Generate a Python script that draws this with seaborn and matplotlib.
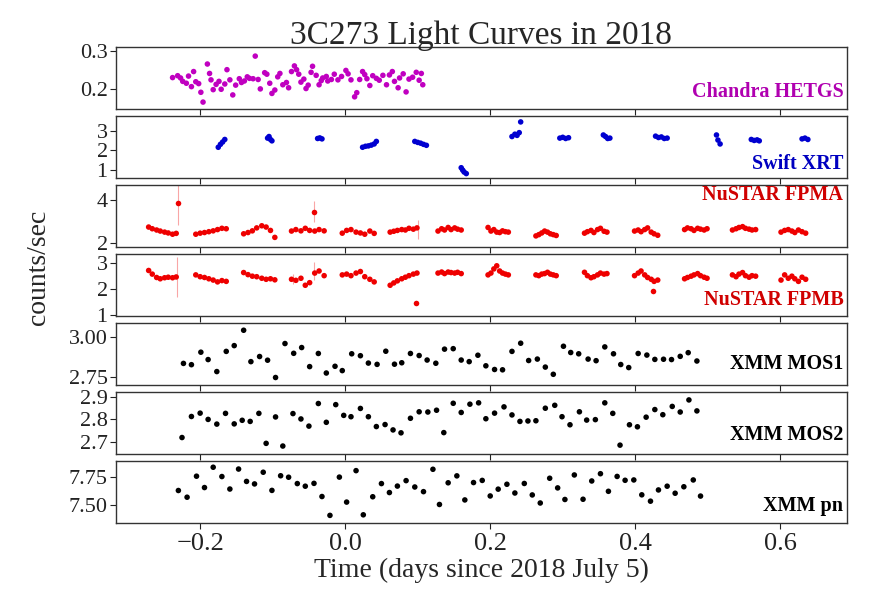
import matplotlib
matplotlib.use("Agg")
import matplotlib.pyplot as plt
import numpy as np
import pandas as pd
import seaborn as sns

# ---------------- data ----------------
chandra_time = [-0.238, -0.231, -0.227, -0.224, -0.219, -0.216, -0.212, -0.209, -0.206, -0.202,
                -0.199, -0.196, -0.190, -0.187, -0.185, -0.182, -0.178, -0.174, -0.171, -0.166,
                -0.163, -0.159, -0.155, -0.151, -0.146, -0.143, -0.139, -0.135, -0.132, -0.127,
                -0.124, -0.120, -0.117, -0.111, -0.108, -0.104, -0.101, -0.097, -0.093, -0.090,
                -0.086, -0.081, -0.078, -0.074, -0.070, -0.067, -0.064, -0.061, -0.057, -0.054,
                -0.051, -0.047, -0.045, -0.040, -0.036, -0.033, -0.031, -0.026, -0.024, -0.019,
                -0.015, -0.010, -0.005, 0.001, 0.004, 0.008, 0.013, 0.016, 0.020, 0.024,
                0.027, 0.030, 0.034, 0.038, 0.043, 0.047, 0.052, 0.057, 0.061, 0.065,
                0.068, 0.073, 0.075, 0.080, 0.084, 0.088, 0.093, 0.098, 0.102, 0.105, 0.107]
chandra_rate = [0.229, 0.234, 0.228, 0.219, 0.214, 0.233, 0.205, 0.245, 0.218, 0.213,
                0.190, 0.164, 0.265, 0.240, 0.223, 0.197, 0.211, 0.219, 0.198, 0.212,
                0.250, 0.223, 0.183, 0.209, 0.226, 0.216, 0.220, 0.231, 0.227, 0.226,
                0.286, 0.224, 0.199, 0.242, 0.238, 0.214, 0.187, 0.196, 0.231, 0.240,
                0.210, 0.216, 0.202, 0.245, 0.260, 0.250, 0.238, 0.217, 0.225, 0.200,
                0.209, 0.243, 0.259, 0.235, 0.210, 0.221, 0.228, 0.232, 0.220, 0.224,
                0.238, 0.223, 0.232, 0.248, 0.239, 0.223, 0.178, 0.189, 0.224, 0.245,
                0.237, 0.226, 0.208, 0.234, 0.227, 0.222, 0.235, 0.210, 0.236, 0.245,
                0.219, 0.202, 0.228, 0.239, 0.191, 0.225, 0.230, 0.243, 0.222, 0.240, 0.210]

swift_time = [-0.175, -0.172, -0.169, -0.166,
              -0.107, -0.105, -0.103, -0.101,
              -0.038, -0.035, -0.032,
              0.024, 0.028, 0.032, 0.036, 0.040, 0.043,
              0.096, 0.100, 0.104, 0.108, 0.112,
              0.160, 0.162, 0.164, 0.167,
              0.230, 0.234, 0.237, 0.240, 0.242,
              0.296, 0.300, 0.304, 0.308,
              0.356, 0.359, 0.362, 0.365,
              0.428, 0.432, 0.436, 0.440, 0.444,
              0.512, 0.514, 0.517,
              0.560, 0.564, 0.568, 0.571,
              0.630, 0.634, 0.638]
swift_rate = [2.15, 2.30, 2.42, 2.55,
              2.62, 2.70, 2.55, 2.48,
              2.60, 2.63, 2.58,
              2.15, 2.20, 2.22, 2.26, 2.32, 2.45,
              2.45, 2.40, 2.36, 2.30, 2.25,
              1.10, 0.98, 0.88, 0.80,
              2.70, 2.82, 2.76, 2.90, 3.45,
              2.62, 2.66, 2.60, 2.64,
              2.78, 2.70, 2.60, 2.62,
              2.72, 2.65, 2.68, 2.60, 2.62,
              2.78, 2.52, 2.32,
              2.55, 2.50, 2.53, 2.48,
              2.58, 2.62, 2.55]

nustar_time = [-0.271, -0.266, -0.260, -0.255, -0.249, -0.244, -0.238, -0.233,
               -0.206, -0.200, -0.194, -0.188, -0.182, -0.176, -0.170, -0.164,
               -0.140, -0.134, -0.128, -0.122, -0.115, -0.109, -0.103, -0.097,
               -0.074, -0.068, -0.061, -0.055, -0.049, -0.042, -0.036, -0.029,
               -0.004, 0.002, 0.008, 0.015, 0.021, 0.027, 0.034, 0.040,
               0.062, 0.067, 0.072, 0.078, 0.083, 0.088, 0.094, 0.099,
               0.128, 0.133, 0.137, 0.142, 0.146, 0.151, 0.155, 0.160,
               0.197, 0.201, 0.205, 0.209, 0.213, 0.217, 0.221, 0.225,
               0.263, 0.267, 0.271, 0.275, 0.279, 0.283, 0.287, 0.291,
               0.330, 0.334, 0.339, 0.343, 0.348, 0.352, 0.357, 0.361,
               0.399, 0.404, 0.408, 0.413, 0.417, 0.422, 0.426, 0.431,
               0.468, 0.472, 0.477, 0.481, 0.486, 0.490, 0.495, 0.499,
               0.534, 0.539, 0.543, 0.548, 0.552, 0.557, 0.561, 0.566,
               0.601, 0.606, 0.611, 0.616, 0.620, 0.625, 0.630, 0.635]
fpma_rate = [2.74, 2.66, 2.60, 2.55, 2.50, 2.46, 2.40, 2.44,
             2.40, 2.45, 2.48, 2.52, 2.56, 2.62, 2.68, 2.66,
             2.42, 2.48, 2.56, 2.70, 2.80, 2.74, 2.58, 2.25,
             2.55, 2.62, 2.56, 2.68, 2.58, 2.55, 2.62, 2.56,
             2.45, 2.58, 2.62, 2.50, 2.46, 2.40, 2.55, 2.44,
             2.50, 2.54, 2.58, 2.62, 2.60, 2.68, 2.64, 2.70,
             2.55, 2.66, 2.60, 2.72, 2.62, 2.70, 2.64, 2.60,
             2.72, 2.55, 2.62, 2.50, 2.48, 2.56, 2.52, 2.50,
             2.32, 2.38, 2.46, 2.55, 2.50, 2.42, 2.38, 2.34,
             2.45, 2.52, 2.58, 2.48, 2.62, 2.68, 2.54, 2.50,
             2.55, 2.60, 2.52, 2.62, 2.70, 2.50, 2.42, 2.35,
             2.62, 2.70, 2.66, 2.58, 2.68, 2.64, 2.60, 2.66,
             2.60, 2.66, 2.72, 2.76, 2.68, 2.64, 2.60, 2.62,
             2.50, 2.58, 2.62, 2.55, 2.48, 2.60, 2.52, 2.45]
fpmb_rate = [2.72, 2.58, 2.45, 2.40, 2.44, 2.46, 2.44, 2.47,
             2.55, 2.48, 2.45, 2.40, 2.35, 2.28, 2.33, 2.30,
             2.64, 2.56, 2.50, 2.48, 2.42, 2.38, 2.40, 2.36,
             2.38, 2.34, 2.42, 2.15, 2.25, 2.62, 2.70, 2.52,
             2.55, 2.58, 2.52, 2.62, 2.68, 2.48, 2.38, 2.28,
             2.15, 2.24, 2.32, 2.40, 2.46, 2.52, 2.58, 2.62,
             2.62, 2.66, 2.60, 2.66, 2.64, 2.62, 2.65, 2.60,
             2.55, 2.62, 2.78, 2.90, 2.70, 2.62, 2.58, 2.55,
             2.55, 2.52, 2.58, 2.60, 2.65, 2.58, 2.55, 2.52,
             2.65, 2.52, 2.44, 2.48, 2.55, 2.62, 2.58, 2.60,
             2.52, 2.62, 2.70, 2.55, 2.45, 2.38, 2.30, 2.35,
             2.40, 2.45, 2.50, 2.55, 2.60, 2.52, 2.46, 2.42,
             2.55, 2.48, 2.58, 2.64, 2.52, 2.46, 2.52, 2.50,
             2.35, 2.55, 2.42, 2.50, 2.40, 2.30, 2.46, 2.38]
# isolated NuSTAR bins with large error bars / outliers
fpma_extra_time = [-0.231, -0.043, 0.100]
fpma_extra_rate = [3.86, 3.47, 2.62]
fpma_extra_err = [1.00, 0.50, 0.45]
fpmb_extra_time = [-0.232, -0.043, -0.072, 0.097, 0.424]
fpmb_extra_rate = [2.47, 2.70, 2.38, 1.45, 1.92]
fpmb_extra_err = [0.78, 0.36, 0.20, 0.08, 0.08]

xmm_time_mos1 = [-0.223, -0.212, -0.199, -0.189, -0.177, -0.164, -0.153, -0.140, -0.130, -0.118,
                 -0.107, -0.096, -0.083, -0.071, -0.060, -0.049, -0.037, -0.026, -0.014, -0.004,
                 0.009, 0.021, 0.032, 0.044, 0.056, 0.068, 0.078, 0.090, 0.102, 0.113,
                 0.125, 0.137, 0.149, 0.160, 0.171, 0.183, 0.194, 0.206, 0.217, 0.230,
                 0.242, 0.253, 0.265, 0.276, 0.287, 0.301, 0.311, 0.322, 0.335, 0.346,
                 0.358, 0.370, 0.380, 0.391, 0.404, 0.416, 0.427, 0.439, 0.450, 0.462,
                 0.473, 0.485]
mos1_rate = [2.834, 2.826, 2.904, 2.858, 2.783, 2.909, 2.945, 3.041, 2.845, 2.877,
             2.854, 2.746, 2.958, 2.897, 2.933, 2.814, 2.896, 2.774, 2.816, 2.789,
             2.894, 2.882, 2.836, 2.828, 2.910, 2.829, 2.838, 2.896, 2.883, 2.855,
             2.835, 2.923, 2.926, 2.855, 2.845, 2.885, 2.819, 2.796, 2.794, 2.909,
             2.960, 2.852, 2.861, 2.811, 2.766, 2.941, 2.902, 2.894, 2.861, 2.851,
             2.937, 2.894, 2.827, 2.808, 2.896, 2.886, 2.859, 2.860, 2.858, 2.878,
             2.901, 2.849]

xmm_time_mos2 = [-0.225, -0.212, -0.200, -0.189, -0.177, -0.165, -0.153, -0.142, -0.131, -0.119,
                 -0.109, -0.096, -0.086, -0.072, -0.061, -0.050, -0.037, -0.026, -0.013, -0.002,
                 0.008, 0.021, 0.032, 0.043, 0.055, 0.066, 0.077, 0.090, 0.102, 0.114,
                 0.126, 0.136, 0.149, 0.160, 0.172, 0.184, 0.194, 0.206, 0.219, 0.230,
                 0.241, 0.252, 0.263, 0.276, 0.289, 0.299, 0.310, 0.323, 0.333, 0.345,
                 0.358, 0.369, 0.379, 0.392, 0.403, 0.415, 0.427, 0.438, 0.451, 0.462,
                 0.474, 0.485]
mos2_rate = [2.718, 2.812, 2.827, 2.799, 2.778, 2.826, 2.779, 2.795, 2.790, 2.826,
             2.692, 2.810, 2.680, 2.825, 2.801, 2.769, 2.870, 2.786, 2.865, 2.817,
             2.811, 2.848, 2.811, 2.767, 2.776, 2.752, 2.739, 2.804, 2.833, 2.832,
             2.840, 2.740, 2.871, 2.830, 2.867, 2.873, 2.802, 2.827, 2.855, 2.819,
             2.790, 2.792, 2.793, 2.849, 2.862, 2.811, 2.775, 2.833, 2.796, 2.798,
             2.873, 2.826, 2.684, 2.775, 2.766, 2.809, 2.843, 2.820, 2.857, 2.832,
             2.886, 2.837]

xmm_time_pn = [-0.230, -0.218, -0.205, -0.194, -0.182, -0.170, -0.159, -0.147, -0.136, -0.125,
               -0.113, -0.101, -0.089, -0.078, -0.066, -0.055, -0.043, -0.032, -0.021, -0.008,
               0.002, 0.015, 0.025, 0.038, 0.050, 0.061, 0.072, 0.084, 0.096, 0.108,
               0.121, 0.130, 0.142, 0.154, 0.165, 0.177, 0.189, 0.200, 0.211, 0.223,
               0.234, 0.247, 0.258, 0.269, 0.282, 0.293, 0.303, 0.316, 0.328, 0.340,
               0.352, 0.363, 0.375, 0.386, 0.398, 0.409, 0.421, 0.432, 0.444, 0.455,
               0.467, 0.480, 0.490]
pn_rate = [7.631, 7.572, 7.757, 7.657, 7.836, 7.754, 7.644, 7.820, 7.711, 7.689,
           7.792, 7.632, 7.761, 7.748, 7.692, 7.669, 7.694, 7.578, 7.412, 7.749,
           7.529, 7.806, 7.417, 7.576, 7.692, 7.613, 7.670, 7.718, 7.662, 7.621,
           7.818, 7.508, 7.699, 7.760, 7.548, 7.701, 7.720, 7.583, 7.643, 7.686,
           7.609, 7.693, 7.592, 7.521, 7.739, 7.654, 7.552, 7.768, 7.554, 7.715,
           7.779, 7.624, 7.755, 7.721, 7.724, 7.593, 7.537, 7.636, 7.669, 7.607,
           7.664, 7.724, 7.582]

panel_names = ["Chandra HETGS", "Swift XRT", "NuSTAR FPMA", "NuSTAR FPMB",
               "XMM MOS1", "XMM MOS2", "XMM pn"]
title_text = "3C273 Light Curves in 2018"
x_label = "Time (days since 2018 July 5)"
y_label = "counts/sec"
x_ticks = [-0.2, 0.0, 0.2, 0.4, 0.6]

# ---------------- style ----------------
sns.set_style("ticks")
plt.rcParams['font.family'] = ['Liberation Serif', 'DejaVu Serif']
plt.rcParams['axes.edgecolor'] = '#333333'
plt.rcParams['axes.linewidth'] = 1.0

fig = plt.figure(figsize=(8.69, 6.01), dpi=100)
gs = fig.add_gridspec(7, 1, left=0.1335, right=0.9747, top=0.922,
                      bottom=0.130, hspace=0.113)
axes = [fig.add_subplot(gs[0])]
for i in range(1, 7):
    axes.append(fig.add_subplot(gs[i], sharex=axes[0]))

panels = [
    (chandra_time, chandra_rate, '#c000c0', (0.146, 0.3105), [0.2, 0.3], 0.28),
    (swift_time, swift_rate, '#0000d0', (0.58, 3.76), [1, 2, 3], 0.22),
    (nustar_time, fpma_rate, '#ee0000', (1.80, 4.74), [2, 4], 0.84),
    (nustar_time, fpmb_rate, '#ee0000', (0.97, 3.36), [1, 2, 3], 0.26),
    (xmm_time_mos1, mos1_rate, 'black', (2.70, 3.087), [2.75, 3.00], 0.33),
    (xmm_time_mos2, mos2_rate, 'black', (2.645, 2.922), [2.7, 2.8, 2.9], 0.30),
    (xmm_time_pn, pn_rate, 'black', (7.346, 7.892), [7.50, 7.75], 0.28),
]
label_colors = ['#b000b0', '#0000c0', '#d00000', '#d00000', 'black', 'black', 'black']

for i, (ax, (tt, rr, col, ylim, yt, ly)) in enumerate(zip(axes, panels)):
    df = pd.DataFrame({"time": tt, "rate": rr})
    sns.scatterplot(data=df, x="time", y="rate", ax=ax, color=col, s=16,
                    linewidth=0, edgecolor='none', zorder=3)
    ax.set_ylim(*ylim)
    ax.set_yticks(yt)
    ax.set_xlabel("")
    ax.set_ylabel("")
    ax.tick_params(axis='both', direction='out', length=4, width=0.8,
                   colors='#222222')
    ax.tick_params(axis='y', labelsize=16, pad=2)
    ax.tick_params(axis='x', labelsize=19)
    ax.text(0.995, ly, panel_names[i], transform=ax.transAxes, ha='right',
            va='center', fontsize=14.5, fontweight='bold', color=label_colors[i])
    if i < 6:
        ax.tick_params(axis='x', labelbottom=False)

# NuSTAR bins with visible error bars
ea = pd.DataFrame({"time": fpma_extra_time, "rate": fpma_extra_rate, "err": fpma_extra_err})
axes[2].errorbar(ea["time"], ea["rate"], yerr=ea["err"], fmt='none',
                 ecolor='#ee0000', alpha=0.35, elinewidth=0.8)
sns.scatterplot(data=ea.iloc[:2], x="time", y="rate", ax=axes[2], color='#ee0000',
                s=16, linewidth=0, zorder=3)
eb = pd.DataFrame({"time": fpmb_extra_time, "rate": fpmb_extra_rate, "err": fpmb_extra_err})
axes[3].errorbar(eb["time"], eb["rate"], yerr=eb["err"], fmt='none',
                 ecolor='#ee0000', alpha=0.35, elinewidth=0.8)
sns.scatterplot(data=eb.iloc[3:], x="time", y="rate", ax=axes[3], color='#ee0000',
                s=16, linewidth=0, zorder=3)
for ax in axes:
    ax.set_xlabel("")
    ax.set_ylabel("")

axes[0].set_xlim(-0.316, 0.692)
axes[-1].set_xticks(x_ticks)
axes[-1].set_xlabel(x_label, fontsize=20, labelpad=2)

fig.text(0.044, 0.555, y_label, rotation=90, ha='center', va='center', fontsize=20)
fig.text(0.553, 0.941, title_text, ha='center', va='center', fontsize=24)

fig.savefig("out.png", dpi=100)
